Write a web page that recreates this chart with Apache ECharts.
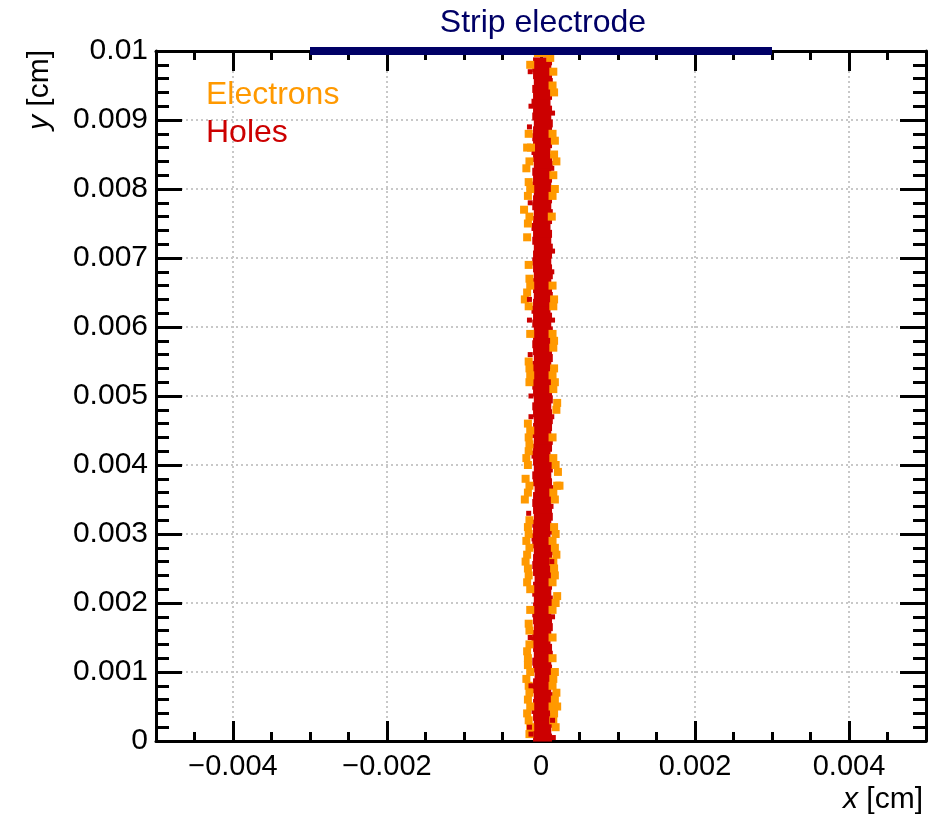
<!DOCTYPE html>
<html>
<head>
<meta charset="utf-8">
<title>Strip electrode</title>
<script src="https://cdn.jsdelivr.net/npm/echarts@6/dist/echarts.min.js"></script>
<style>
  html, body { margin: 0; padding: 0; background: #fff; }
  #chart { width: 941px; height: 815px; }
</style>
</head>
<body>
<div id="chart"></div>
<script>
// axis ticks (cm)
const xMajor = [-0.004, -0.002, 0, 0.002, 0.004];
const xMinor = [-0.0045, -0.004, -0.0035, -0.003, -0.0025, -0.002, -0.0015, -0.001, -0.0005, 0,
  0.0005, 0.001, 0.0015, 0.002, 0.0025, 0.003, 0.0035, 0.004, 0.0045];
const yMajor = [0, 0.001, 0.002, 0.003, 0.004, 0.005, 0.006, 0.007, 0.008, 0.009, 0.01];
const yMinor = [0.0002, 0.0004, 0.0006, 0.0008, 0.0012, 0.0014, 0.0016, 0.0018, 0.0022, 0.0024,
  0.0026, 0.0028, 0.0032, 0.0034, 0.0036, 0.0038, 0.0042, 0.0044, 0.0046, 0.0048, 0.0052, 0.0054,
  0.0056, 0.0058, 0.0062, 0.0064, 0.0066, 0.0068, 0.0072, 0.0074, 0.0076, 0.0078, 0.0082, 0.0084,
  0.0086, 0.0088, 0.0092, 0.0094, 0.0096, 0.0098];

// strip electrode extent on the top surface
const stripX = [-0.003, 0.003];
const stripY = 0.01;

// holes: dense core of the track, [x, y] in cm
const holesCore = [
  [0.00002, 0.00005], [0.00001, 0.00015], [0.00003, 0.00025], [0.00002, 0.00035], [0.00000, 0.00045],
  [0.00002, 0.00055], [0.00003, 0.00065], [0.00001, 0.00075], [0.00002, 0.00085], [0.00004, 0.00095],
  [0.00002, 0.00105], [0.00001, 0.00115], [0.00003, 0.00125], [0.00002, 0.00135], [0.00000, 0.00145],
  [0.00001, 0.00155], [0.00003, 0.00165], [0.00002, 0.00175], [0.00001, 0.00185], [0.00002, 0.00195],
  [0.00003, 0.00205], [0.00001, 0.00215], [0.00002, 0.00225], [0.00004, 0.00235], [0.00002, 0.00245],
  [0.00001, 0.00255], [0.00002, 0.00265], [0.00003, 0.00275], [0.00001, 0.00285], [0.00000, 0.00295],
  [0.00002, 0.00305], [0.00001, 0.00315], [0.00003, 0.00325], [0.00002, 0.00335], [0.00001, 0.00345],
  [0.00002, 0.00355], [0.00004, 0.00365], [0.00002, 0.00375], [0.00001, 0.00385], [0.00003, 0.00395],
  [0.00002, 0.00405], [0.00000, 0.00415], [0.00002, 0.00425], [0.00003, 0.00435], [0.00001, 0.00445],
  [0.00002, 0.00455], [0.00003, 0.00465], [0.00002, 0.00475], [0.00001, 0.00485], [0.00003, 0.00495],
  [0.00002, 0.00505], [0.00001, 0.00515], [0.00002, 0.00525], [0.00000, 0.00535], [0.00001, 0.00545],
  [0.00003, 0.00555], [0.00002, 0.00565], [0.00001, 0.00575], [0.00002, 0.00585], [0.00003, 0.00595],
  [0.00001, 0.00605], [0.00002, 0.00615], [0.00000, 0.00625], [0.00002, 0.00635], [0.00003, 0.00645],
  [0.00002, 0.00655], [0.00001, 0.00665], [0.00003, 0.00675], [0.00002, 0.00685], [0.00001, 0.00695],
  [0.00002, 0.00705], [0.00003, 0.00715], [0.00001, 0.00725], [0.00002, 0.00735], [0.00000, 0.00745],
  [0.00002, 0.00755], [0.00003, 0.00765], [0.00001, 0.00775], [0.00002, 0.00785], [0.00003, 0.00795],
  [0.00001, 0.00805], [0.00002, 0.00815], [0.00001, 0.00825], [0.00003, 0.00835], [0.00002, 0.00845],
  [0.00000, 0.00855], [0.00002, 0.00865], [0.00001, 0.00875], [0.00002, 0.00885], [0.00003, 0.00895],
  [0.00001, 0.00905], [0.00002, 0.00915], [0.00000, 0.00925], [0.00002, 0.00935], [0.00001, 0.00945],
  [0.00003, 0.00955], [0.00002, 0.00965], [0.00001, 0.00975], [0.00002, 0.00985]
];

// holes: stray charges at the edge of the track
const holesEdge = [
  [-0.00014, 0.0097], [0.00015, 0.0091], [-0.00015, 0.0089], [-0.00014, 0.0078], [0.00015, 0.0071],
  [-0.00015, 0.0061], [0.00015, 0.0061], [-0.00014, 0.0056], [0.00014, 0.0047], [-0.00013, 0.0050],
  [-0.00016, 0.0033], [0.00014, 0.0026], [0.00015, 0.0018], [-0.00014, 0.0015], [-0.00015, 0.0002],
  [0.00016, 0.00005], [0.00015, 0.0003], [-0.00013, 0.0001], [-0.00015, 0.0064], [0.00014, 0.0083],
  [-0.00013, 0.0092], [0.00014, 0.0068], [-0.00013, 0.0047], [0.00013, 0.0034], [-0.00013, 0.0008]
];

// electrons, [x, y] in cm
const electrons = [
  [-0.00004, 0.00997], [0.00002, 0.00997], [0.00007, 0.00997], [-0.00014, 0.0098], [0.00012, 0.0099],
  [0.00016, 0.0097], [0.00015, 0.0095], [0.00017, 0.0094],
  [-0.00016, 0.0088], [-0.00018, 0.0086], [-0.00015, 0.0084], [-0.00019, 0.0083], [-0.00016, 0.0081], [-0.00017, 0.0079],
  [-0.00013, 0.0086], [-0.00014, 0.0080],
  [0.00018, 0.0087], [0.00017, 0.0085], [0.0002, 0.0084], [0.00016, 0.0082], [0.00018, 0.0080],
  [0.00015, 0.0088], [0.00015, 0.0079],
  [-0.00022, 0.0077], [-0.00017, 0.0075], [-0.00018, 0.0073], [-0.00015, 0.0076], [0.00014, 0.0076],
  [-0.00016, 0.0069], [-0.00015, 0.0067], [-0.00014, 0.0066], [0.00015, 0.0066],
  [-0.00018, 0.0065], [-0.00021, 0.0064], [-0.00016, 0.0063], [0.00017, 0.0064], [0.00016, 0.0063],
  [0.00017, 0.0058], [0.00016, 0.0057], [-0.00014, 0.0059], [0.00015, 0.0059],
  [-0.00016, 0.0055], [-0.00015, 0.0052], [0.00017, 0.0054], [0.00018, 0.0052], [0.00016, 0.0051],
  [-0.00015, 0.0054], [-0.00014, 0.0053], [0.00015, 0.0053],
  [0.00021, 0.0049], [0.0002, 0.0048],
  [-0.00017, 0.0046], [-0.00016, 0.0044], [-0.00015, 0.0043], [-0.00014, 0.0045], [0.00015, 0.0044],
  [-0.00019, 0.0041], [-0.00017, 0.0040], [0.00019, 0.0040], [0.00022, 0.0039],
  [-0.00016, 0.0042], [0.00016, 0.0041],
  [-0.0002, 0.0038], [-0.00017, 0.0036], [-0.00021, 0.0035], [0.00021, 0.0037], [0.00024, 0.0037], [0.00018, 0.0035],
  [0.00016, 0.0036], [-0.00015, 0.0037],
  [-0.00017, 0.0031], [-0.00016, 0.0030], [-0.00019, 0.0029], [-0.00018, 0.0027], [-0.0002, 0.0026],
  [-0.00017, 0.0025], [-0.00016, 0.0024], [-0.00018, 0.0023],
  [-0.00015, 0.0032], [-0.00015, 0.0028], [-0.00014, 0.0022],
  [0.00017, 0.0031], [0.00019, 0.0030], [0.00018, 0.0028], [0.0002, 0.0027], [0.00017, 0.0025], [0.00018, 0.0024],
  [0.00015, 0.0029], [0.00016, 0.0026], [0.00015, 0.0023],
  [0.00021, 0.0021], [0.00019, 0.0020], [0.00015, 0.0019], [-0.00014, 0.0019],
  [-0.00016, 0.0017], [-0.00015, 0.0016], [0.00015, 0.0015], [-0.00015, 0.0014],
  [-0.00018, 0.0013], [-0.00017, 0.0012], [0.00015, 0.0012],
  [-0.00017, 0.0011], [-0.00019, 0.0009], [-0.00016, 0.0008], [-0.00017, 0.0006], [-0.00018, 0.0004],
  [-0.00016, 0.0003], [-0.00015, 0.0001], [-0.00014, 0.0010], [-0.00015, 0.0007], [-0.00014, 0.0005], [-0.00014, 0.0002],
  [0.00018, 0.0010], [0.00016, 0.0009], [0.0002, 0.0007], [0.00018, 0.0006], [0.00021, 0.0005],
  [0.00017, 0.0004], [0.00019, 0.0002], [0.00015, 0.0008], [0.00015, 0.0005], [0.00016, 0.0003]
];

const FONT = 'Liberation Sans, Arial, Helvetica, sans-serif';
const ORANGE = '#ff9900';
const RED = '#cc0000';
const NAVY = '#000066';

function minusFmt(v) {
  return v < 0 ? '\u2212' + String(-v) : String(v);
}

const frameLine = { show: true, onZero: false, lineStyle: { color: '#000', width: 3 } };
const noLine = { show: false, onZero: false };

// one axis per tick set (major / minor) and per side, like a ROOT frame
function xAxisDef(pos, ticks, len, opts) {
  return Object.assign({
    type: 'value',
    position: pos,
    min: -0.005,
    max: 0.005,
    axisLine: frameLine,
    axisTick: { show: true, inside: true, length: len, customValues: ticks, lineStyle: { color: '#000', width: 3 } },
    axisLabel: { show: false },
    splitLine: { show: false },
  }, opts || {});
}

function yAxisDef(pos, ticks, len, opts) {
  return Object.assign({
    type: 'value',
    position: pos,
    min: 0,
    max: 0.01,
    axisLine: frameLine,
    axisTick: { show: true, inside: true, length: len, customValues: ticks, lineStyle: { color: '#000', width: 3 } },
    axisLabel: { show: false },
    splitLine: { show: false },
  }, opts || {});
}

const gridLine = { show: true, lineStyle: { color: '#c8c8c8', width: 2, type: [2, 3] } };

const chart = echarts.init(document.getElementById('chart'));
chart.setOption({
  animation: false,
  backgroundColor: '#fff',
  title: {
    text: 'Strip electrode',
    left: 538,
    top: 2,
    textAlign: 'center',
    textStyle: { color: NAVY, fontSize: 32, fontWeight: 'normal', fontFamily: FONT },
  },
  legend: {
    orient: 'vertical',
    left: 196,
    top: 74,
    itemWidth: 0,
    itemHeight: 0,
    itemGap: 6,
    selectedMode: false,
    textStyle: { fontSize: 32, fontFamily: FONT },
    data: [
      { name: 'Electrons', icon: 'none', textStyle: { color: ORANGE } },
      { name: 'Holes', icon: 'none', textStyle: { color: RED } },
    ],
  },
  grid: { left: 156, right: 15, top: 51, bottom: 74 },
  xAxis: [
    xAxisDef('bottom', xMajor, 20, {
      axisLabel: {
        show: true, customValues: xMajor, margin: 11, formatter: minusFmt,
        color: '#000', fontSize: 29, fontFamily: FONT,
      },
      splitLine: gridLine,
    }),
    xAxisDef('bottom', xMinor, 9, { axisLine: noLine }),
    xAxisDef('top', xMajor, 20),
    xAxisDef('top', xMinor, 9, { axisLine: noLine }),
  ],
  yAxis: [
    yAxisDef('left', yMajor, 26, {
      axisLabel: {
        show: true, customValues: yMajor, margin: 8, formatter: minusFmt,
        color: '#000', fontSize: 30, fontFamily: FONT,
      },
      splitLine: gridLine,
    }),
    yAxisDef('left', yMinor, 13, { axisLine: noLine }),
    yAxisDef('right', yMajor, 26),
    yAxisDef('right', yMinor, 13, { axisLine: noLine }),
  ],
  graphic: [
    {
      type: 'text', x: 40, y: 50, rotation: Math.PI / 2,
      style: {
        text: '{i|y} [cm]', textAlign: 'right', textVerticalAlign: 'middle',
        fontSize: 30, fontFamily: FONT, fill: '#000',
        rich: { i: { fontStyle: 'italic', fontSize: 30, fontFamily: FONT } },
      },
    },
    {
      type: 'text', x: 923, y: 800,
      style: {
        text: '{i|x} [cm]', textAlign: 'right', textVerticalAlign: 'middle',
        fontSize: 30, fontFamily: FONT, fill: '#000',
        rich: { i: { fontStyle: 'italic', fontSize: 30, fontFamily: FONT } },
      },
    },
  ],
  series: [
    {
      name: 'Holes',
      type: 'scatter',
      symbol: 'rect',
      symbolSize: [19, 8],
      itemStyle: { color: RED, opacity: 1 },
      data: holesCore,
      z: 3,
    },
    {
      name: 'Electrons',
      type: 'scatter',
      symbol: 'rect',
      symbolSize: 8,
      itemStyle: { color: ORANGE, opacity: 1 },
      data: electrons,
      z: 4,
    },
    {
      name: 'Holes',
      type: 'scatter',
      symbol: 'rect',
      symbolSize: 5,
      itemStyle: { color: RED, opacity: 1 },
      data: holesEdge,
      z: 5,
    },
    {
      name: 'Strip electrode',
      type: 'line',
      symbol: 'none',
      clip: false,
      lineStyle: { color: NAVY, width: 8 },
      data: [[stripX[0], stripY], [stripX[1], stripY]],
      z: 6,
    },
  ],
});
</script>
</body>
</html>
